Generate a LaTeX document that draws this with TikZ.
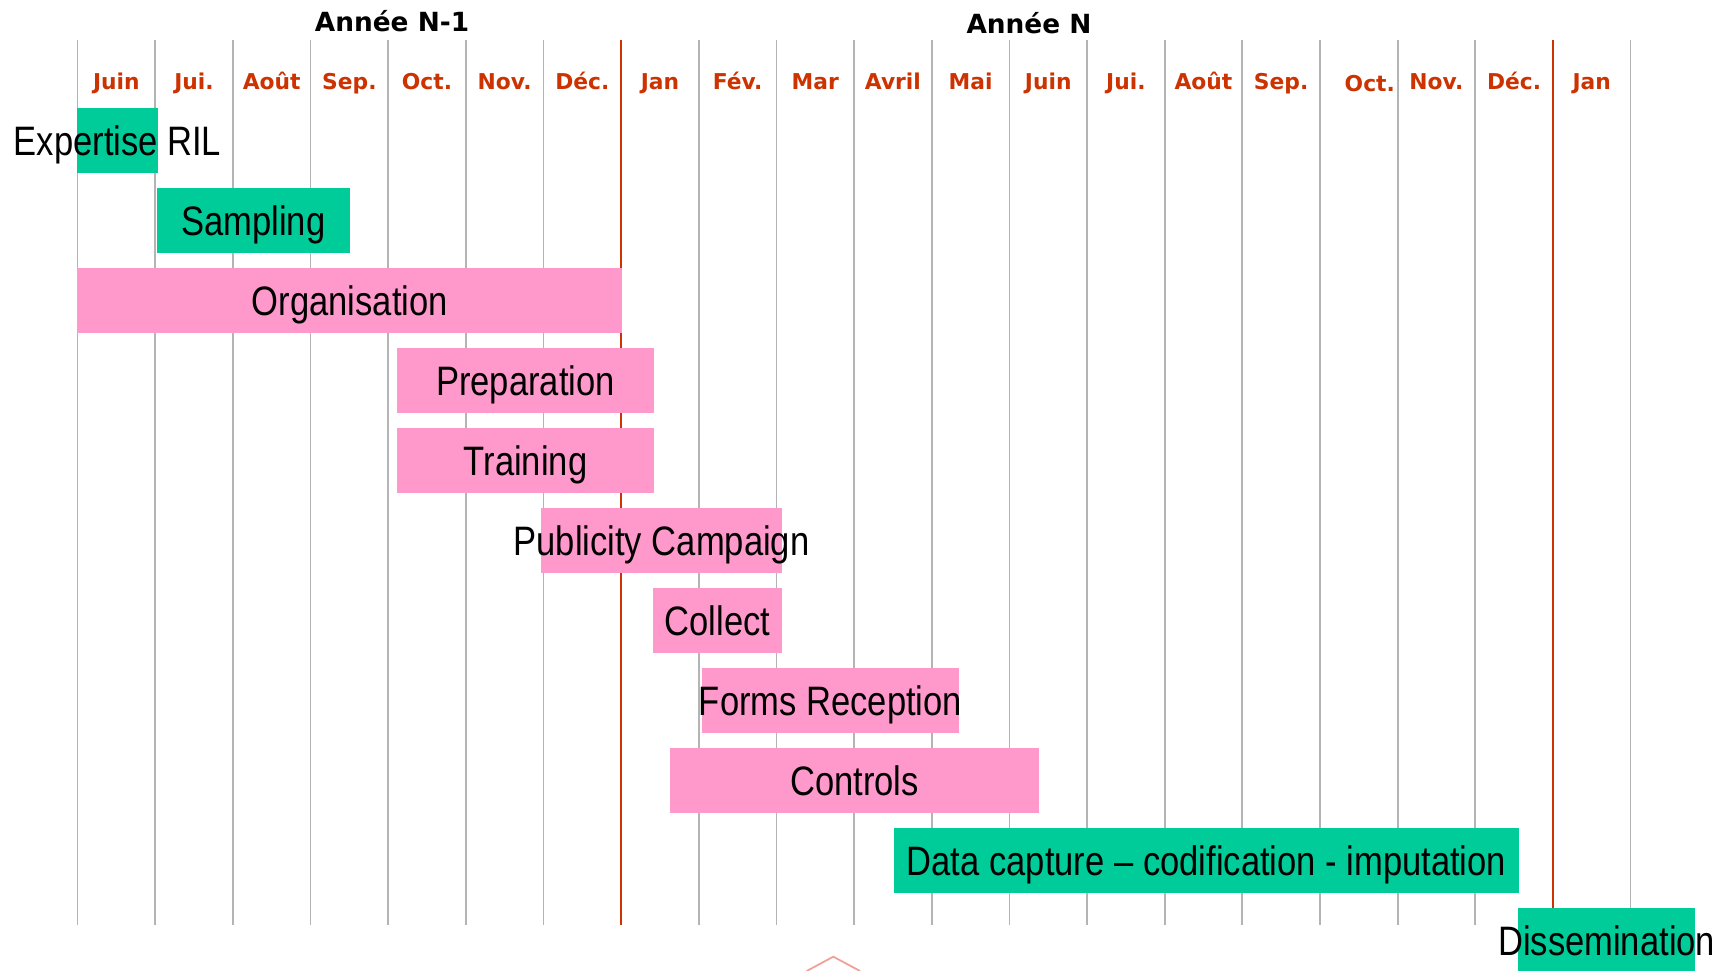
\documentclass[tikz,border=0pt]{standalone}
\usepackage{fontspec}
\newfontfamily\barfont[FakeStretch=0.84]{Liberation Sans}
\newfontfamily\hdrfont{DejaVu Sans}
\definecolor{gbarcol}{RGB}{0,204,153}
\definecolor{pbarcol}{RGB}{255,153,204}
\definecolor{monthcol}{RGB}{204,51,0}
\definecolor{gridcol}{RGB}{180,180,180}
\definecolor{markcol}{RGB}{242,160,150}
\newcommand{\ganttbar}[6]{%
  \fill[#5] (#2,#4) rectangle (#3,#4+64.5);
  \node[bartext] (#1) at ({(#2+#3)/2},#4+46.75) {#6};
}
\begin{document}
\begin{tikzpicture}[x=0.01cm,y=-0.01cm,
  gridline/.style={draw=gridcol,line width=0.5pt},
  yearline/.style={draw=monthcol,line width=0.5pt},
  monthlabel/.style={anchor=base,inner sep=0,text=monthcol,font=\hdrfont\bfseries\fontsize{6.2}{7}\selectfont},
  yearlabel/.style={anchor=base,inner sep=0,font=\hdrfont\bfseries\fontsize{7.5}{9}\selectfont},
  bartext/.style={anchor=base,inner sep=0,font=\barfont\fontsize{11.7}{13}\selectfont},
  greenbar/.style={fill=gbarcol},
  pinkbar/.style={fill=pbarcol}]
\useasboundingbox (0,0) rectangle (1729,971);
\fill[white] (0,0) rectangle (1729,971);
% grid lines
\foreach \i in {0,...,20} {
  \pgfmathsetmacro\xx{77.6+77.65*\i}
  \ifnum\i=7
    \draw[yearline] (\xx,40) -- (\xx,925);
  \else\ifnum\i=19
    \draw[yearline] (\xx,40) -- (\xx,925);
  \else
    \draw[gridline] (\xx,40) -- (\xx,925);
  \fi\fi
}
% year labels
\node[yearlabel] (yearA) at (392,31.7) {Année N-1};
\node[yearlabel] (yearB) at (1029,33.3) {Année N};
% month labels
\foreach \m [count=\k from 0] in {Juin,Jui.,Août,Sep.,Oct.,Nov.,Déc.,Jan,Fév.,Mar,Avril,Mai,Juin,Jui.,Août,Sep.} {
  \node[monthlabel] (m\k) at ({77.6+77.65*\k+38.8},90) {\m};
}
\node[monthlabel] (m16) at ({77.6+77.65*16+38.8+11},91.7) {Oct.};
\node[monthlabel] (m17) at ({77.6+77.65*17+38.8},90) {Nov.};
\node[monthlabel] (m18) at ({77.6+77.65*18+38.8},90) {Déc.};
\node[monthlabel] (m19) at ({77.6+77.65*19+38.8},90) {Jan};
% bars
\ganttbar{expertise}{77.3}{157.7}{108.3}{greenbar}{Expertise RIL}
\ganttbar{sampling}{157}{349.7}{188.3}{greenbar}{Sampling}
\ganttbar{organisation}{77.3}{622.3}{268.3}{pinkbar}{Organisation}
\ganttbar{preparation}{397}{654}{348.3}{pinkbar}{Preparation}
\ganttbar{training}{397}{654}{428.3}{pinkbar}{Training}
\ganttbar{publicity}{541}{782}{508.3}{pinkbar}{Publicity Campaign}
\ganttbar{collect}{653}{782}{588.3}{pinkbar}{Collect}
\ganttbar{forms}{702}{959}{668.3}{pinkbar}{Forms Reception}
\ganttbar{controls}{670}{1039}{748.3}{pinkbar}{Controls}
\ganttbar{datacapture}{894}{1519}{828.3}{greenbar}{Data capture – codification - imputation}
\ganttbar{dissemination}{1518.3}{1695}{908.3}{greenbar}{Dissemination}
% partial marker at bottom
\draw[markcol,line width=0.5pt] (806.7,971) -- (833.3,956.7) -- (860,971);
\end{tikzpicture}
\end{document}
